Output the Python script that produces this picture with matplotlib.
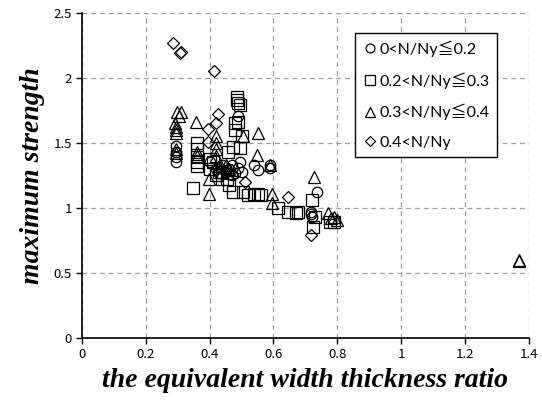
import matplotlib
import matplotlib.pyplot as plt

matplotlib.use("Agg")

# equivalent width thickness ratio vs maximum strength, by axial load level
circ_x = [0.294, 0.294, 0.294, 0.294, 0.40, 0.42, 0.44, 0.45, 0.46, 0.47, 0.48, 0.49, 0.495,
          0.49, 0.50, 0.54, 0.55, 0.59, 0.59, 0.736, 0.717, 0.717, 0.72, 0.47, 0.43]
circ_y = [1.48, 1.43, 1.39, 1.35, 1.35, 1.30, 1.33, 1.28, 1.30, 1.25, 1.27, 1.71, 1.35,
          1.31, 1.28, 1.33, 1.29, 1.33, 1.31, 1.12, 0.97, 0.95, 0.93, 1.33, 1.27]

sq_x = [0.348, 0.36, 0.36, 0.36, 0.36, 0.36, 0.40, 0.41, 0.43, 0.44, 0.454, 0.457, 0.473, 0.474,
        0.485, 0.485, 0.49, 0.495, 0.49, 0.48, 0.48, 0.495, 0.50, 0.505, 0.52, 0.54, 0.55, 0.56,
        0.614, 0.645, 0.677, 0.67, 0.72, 0.73, 0.724, 0.776, 0.79, 0.40, 0.42, 0.46]
sq_y = [1.15, 1.50, 1.45, 1.39, 1.35, 1.32, 1.38, 1.35, 1.28, 1.22, 1.22, 1.43, 1.12, 1.47,
        1.85, 1.83, 1.81, 1.79, 1.66, 1.65, 1.60, 1.46, 1.55, 1.12, 1.10, 1.11, 1.11, 1.10,
        1.00, 0.97, 0.97, 0.96, 1.06, 0.93, 0.85, 0.89, 0.89, 1.30, 1.25, 1.18]

tri_x = [0.297, 0.31, 0.304, 0.291, 0.294, 0.294, 0.294, 0.294, 0.294, 0.357, 0.36, 0.36,
         0.398, 0.398, 0.42, 0.42, 0.42, 0.42, 0.43, 0.44, 0.46, 0.505, 0.55, 0.548, 0.59,
         0.594, 0.594, 0.727, 0.77, 0.79, 0.80, 0.78, 1.369, 1.369, 0.45, 0.47]
tri_y = [1.74, 1.74, 1.71, 1.65, 1.60, 1.58, 1.62, 1.45, 1.42, 1.66, 1.40, 1.43,
         1.22, 1.11, 1.55, 1.50, 1.45, 1.40, 1.32, 1.28, 1.30, 1.55, 1.58, 1.41, 1.33,
         1.11, 1.04, 1.24, 0.96, 0.93, 0.91, 0.92, 0.59, 0.60, 1.33, 1.29]

dia_x = [0.285, 0.307, 0.309, 0.413, 0.425, 0.42, 0.395, 0.395, 0.51, 0.645, 0.717, 0.44]
dia_y = [2.27, 2.19, 2.20, 2.05, 1.72, 1.65, 1.61, 1.51, 1.20, 1.085, 0.79, 1.30]

labels = ["0<N/Ny≦0.2", "0.2<N/Ny≦0.3", "0.3<N/Ny≦0.4", "0.4<N/Ny"]
x_ticks = [0, 0.2, 0.4, 0.6, 0.8, 1, 1.2, 1.4]
y_ticks = [0, 0.5, 1, 1.5, 2, 2.5]

fig = plt.figure(figsize=(5.42, 4.01), dpi=100)
ax = fig.add_axes([0.151, 0.157, 0.825, 0.811])

series = [
    (circ_x, circ_y, "o", 7.5),
    (sq_x, sq_y, "s", 8),
    (tri_x, tri_y, "^", 8),
    (dia_x, dia_y, "D", 6),
]
for (xs, ys, m, ms), lab in zip(series, labels):
    ax.plot(xs, ys, linestyle="none", marker=m, markersize=ms, markerfacecolor="none",
            markeredgecolor="black", markeredgewidth=0.9, label=lab)

ax.set_xlim(0, 1.4)
ax.set_ylim(0, 2.5)
ax.set_xticks(x_ticks)
ax.set_xticklabels(["0", "0.2", "0.4", "0.6", "0.8", "1", "1.2", "1.4"])
ax.set_yticks(y_ticks)
ax.set_yticklabels(["0", "0.5", "1", "1.5", "2", "2.5"])
ax.tick_params(direction="out", length=4, width=1, labelsize=9.5, pad=3)
for t in ax.get_xticklabels() + ax.get_yticklabels():
    t.set_family(["Noto Sans CJK JP", "DejaVu Sans"])

ax.grid(True, linestyle=(0, (4, 3)), color="#a0a0a0", linewidth=0.9)
ax.set_axisbelow(True)
ax.spines["top"].set_visible(False)
ax.spines["right"].set_visible(False)
ax.spines["left"].set_linewidth(1.2)
ax.spines["bottom"].set_linewidth(1.2)

ax.set_xlabel("the equivalent width thickness ratio", family="Liberation Serif",
              fontweight="bold", fontstyle="italic", fontsize=20, labelpad=5)
ax.set_ylabel("maximum strength", family="Liberation Serif",
              fontweight="bold", fontstyle="italic", fontsize=20, labelpad=6)

leg = ax.legend(loc="upper left", bbox_to_anchor=(0.61, 0.937), frameon=True,
                fancybox=False, edgecolor="black", framealpha=1,
                prop={"family": ["Lato", "Noto Sans CJK JP"], "size": 11.5},
                handletextpad=0.1, handlelength=1.0, labelspacing=0.95,
                borderpad=0.45, borderaxespad=0, markerscale=0.85)
leg.get_frame().set_linewidth(1.0)

fig.savefig("out.png", dpi=100)
